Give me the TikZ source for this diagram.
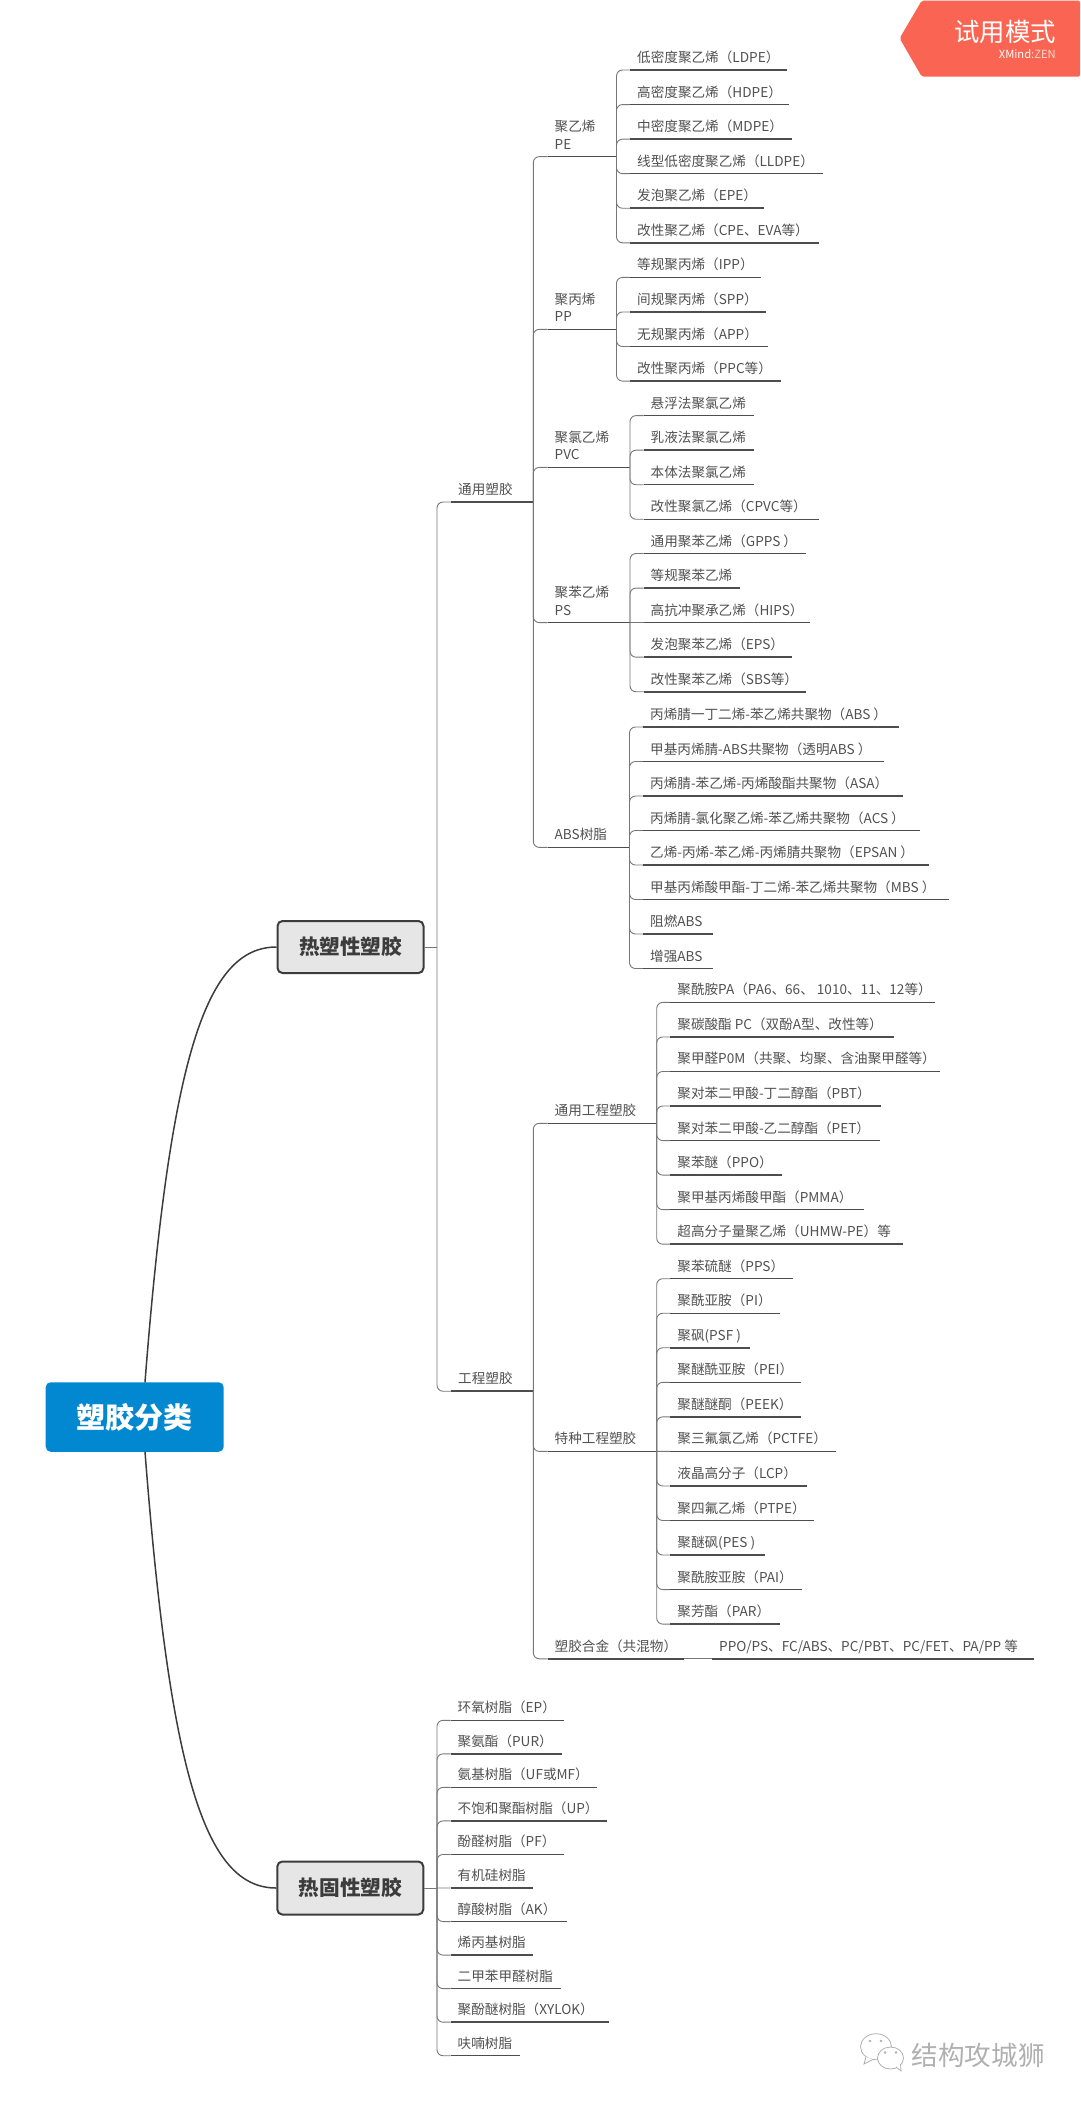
\documentclass[tikz,border=0pt]{standalone}
\usepackage{fontspec}
\setmainfont{Noto Sans CJK SC}
\usepackage{tikz}

\definecolor{inkgray}{HTML}{505050}
\definecolor{linegray}{HTML}{777777}
\definecolor{lineink}{HTML}{4d4d4d}
\definecolor{rootblue}{HTML}{0288D1}
\definecolor{boxgray}{HTML}{E6E6E6}
\definecolor{boxink}{HTML}{3C3C3C}
\definecolor{tagred}{HTML}{F96552}
\definecolor{markgray}{HTML}{B0B0B0}

\tikzset{
	leaf/.style={anchor=south west, inner xsep=7pt, inner ysep=4.3pt, text depth=3pt, text=inkgray, font=\fontsize{13.6}{17.6}\selectfont},
	branch/.style={leaf, align=left},
	conn/.style={draw=linegray, line width=0.9pt, rounded corners=6pt},
	uline/.style={draw=lineink, line width=1.5pt},
	topic/.style={draw=boxink, line width=2pt, fill=boxgray, rounded corners=5pt, text=boxink, minimum width=146pt, minimum height=52pt, font=\fontsize{20.6}{24}\selectfont\bfseries},
	rootnode/.style={fill=rootblue, rounded corners=5pt, text=white, minimum width=178pt, minimum height=69.5pt, font=\fontsize{29}{34}\selectfont\bfseries},
	curve/.style={draw=boxink, line width=1.5pt},
}

% #1 name, #2 spine x, #3 first line y, #4 pitch, #5 leaf on the parent's line, #6 list of line end/text
\newcommand{\leaves}[6]{
	\foreach \ex/\txt [count=\k from 0] in {#6} {
		\pgfmathsetmacro\xs{#2+13.5}
		\pgfmathsetmacro\yy{#3+\k*#4}
		\pgfmathsetmacro\w{\ex-\xs-14}
		\node[leaf] (#1\k) at (\xs,\yy) {\makebox[\w pt][l]{\txt}};
		\ifnum\k=#5 \draw[conn] (#1j) -- (#1\k.south west);
		\else \draw[conn] (#1j) |- (#1\k.south west);
		\fi
		\draw[uline] (#1\k.south west) -- (#1\k.south east);
	}
}

\begin{document}
\begin{tikzpicture}[x=1pt, y=-1pt]
	\useasboundingbox (0,0) rectangle (1080,2102);

	% main topics
	\node[rootnode] (root) at (134.7,1417) {塑胶分类};
	\node[topic] (plast) at (350.5,947) {热塑性塑胶};
	\node[topic, minimum height=53pt] (setplast) at (350.3,1888) {热固性塑胶};
	\coordinate (roottop) at (145,1382.3);
	\coordinate (rootbot) at (145,1451.7);
	\draw[curve] (roottop) .. controls (170,1060) and (205,947) .. (plast.west);
	\draw[curve] (rootbot) .. controls (170,1775) and (205,1888) .. (setplast.west);

	% second level
	\coordinate (plastj) at (437,947);
	\coordinate (setplastj) at (437,1888);
	\draw[conn] (plast.east) -- (plastj);
	\draw[conn] (setplast.east) -- (setplastj);
	\foreach \n/\y/\txt in {comm/502/通用塑胶, engi/1391.2/工程塑胶} {
		\node[branch] (\n) at (451,\y) {\txt};
		\coordinate (\n j) at (533.3,\y);
		\draw[conn] (plastj) |- (\n.south west);
		\draw[uline] (\n.south west) -- (\n j);
	}

	% third level
	\foreach \n/\p/\s/\y/\txt in {pe/comm/616.5/156.6/聚乙烯\\PE, pp/comm/616.5/329.3/聚丙烯\\PP,
		pvc/comm/630/467.4/聚氯乙烯\\PVC, ps/comm/630/622.62/聚苯乙烯\\PS, abs/comm/629.5/847.4/ABS树脂,
		gen/engi/656.7/1123.3/通用工程塑胶, spec/engi/656.7/1451.4/特种工程塑胶, alloy/engi/684/1658.8/塑胶合金（共混物）} {
		\node[branch] (\n) at (547.5,\y) {\txt};
		\coordinate (\n j) at (\s,\y);
		\draw[conn] (\p j) |- (\n.south west);
		\draw[uline] (\n.south west) -- (\n j);
	}

	% leaves
	\leaves{pe}{616.5}{70}{34.56}{-1}{787/低密度聚乙烯（LDPE）, 788.6/高密度聚乙烯（HDPE）, 792/中密度聚乙烯（MDPE）,
		822.6/线型低密度聚乙烯（LLDPE）, 763.8/发泡聚乙烯（EPE）, 819/改性聚乙烯（CPE、EVA等）}
	\leaves{pp}{616.5}{277.4}{34.56}{-1}{760.8/等规聚丙烯（IPP）, 766/间规聚丙烯（SPP）, 767.9/无规聚丙烯（APP）, 780.4/改性聚丙烯（PPC等）}
	\leaves{pvc}{630}{415.6}{34.56}{-1}{753.3/悬浮法聚氯乙烯, 753.3/乳液法聚氯乙烯, 753.3/本体法聚氯乙烯, 818.3/改性聚氯乙烯（CPVC等）}
	\leaves{ps}{630}{553.5}{34.56}{2}{806/通用聚苯乙烯（GPPS ）, 739.7/等规聚苯乙烯, 810/高抗冲聚承乙烯（HIPS）, 792/发泡聚苯乙烯（EPS）, 806/改性聚苯乙烯（SBS等）}
	\leaves{abs}{629.5}{727}{34.5}{-1}{898.7/丙烯腈一丁二烯-苯乙烯共聚物（ABS ）, 884/甲基丙烯腈-ABS共聚物（透明ABS ）, 902.7/丙烯腈-苯乙烯-丙烯酸酯共聚物（ASA）,
		919.3/丙烯腈-氯化聚乙烯-苯乙烯共聚物（ACS ）, 929/乙烯-丙烯-苯乙烯-丙烯腈共聚物（EPSAN ）, 948.3/甲基丙烯酸甲酯-丁二烯-苯乙烯共聚物（MBS ）,
		712.3/阻燃ABS, 712.3/增强ABS}
	\leaves{gen}{656.7}{1002.4}{34.54}{-1}{934.7/聚酰胺PA（PA6、66、 1010、11、12等）, 893.3/聚碳酸酯 PC（双酚A型、改性等）, 940/聚甲醛P0M（共聚、均聚、含油聚甲醛等）,
		881/聚对苯二甲酸-丁二醇酯（PBT）, 880/聚对苯二甲酸-乙二醇酯（PET）, 781.3/聚苯醚（PPO）, 864/聚甲基丙烯酸甲酯（PMMA）, 902.7/超高分子量聚乙烯（UHMW-PE）等}
	\leaves{spec}{656.7}{1278.7}{34.54}{5}{792.7/聚苯硫醚（PPS）, 779.3/聚酰亚胺（PI）, 750/聚砜(PSF ), 800.3/聚醚酰亚胺（PEI）, 800.3/聚醚醚酮（PEEK）,
		835.7/聚三氟氯乙烯（PCTFE）, 806.3/液晶高分子（LCP）, 814/聚四氟乙烯（PTPE）, 764.7/聚醚砜(PES ), 801.3/聚酰胺亚胺（PAI）, 779.3/聚芳酯（PAR）}
	\leaves{setplast}{437}{1720.3}{33.54}{5}{563.6/环氧树脂（EP）, 561.4/聚氨酯（PUR）, 596.7/氨基树脂（UF或MF）, 606.3/不饱和聚酯树脂（UP）, 563.6/酚醛树脂（PF）,
		532.8/有机硅树脂, 566.4/醇酸树脂（AK）, 532.8/烯丙基树脂, 560.3/二甲苯甲醛树脂, 609/聚酚醚树脂（XYLOK）, 519.3/呋喃树脂}
	\node[leaf, minimum width=322pt, align=left] (blend) at (712,1658.8) {\makebox[308pt][l]{PPO/PS、FC/ABS、PC/PBT、PC/FET、PA/PP 等}};
	\draw[conn] (alloyj) -- (blend.south west);
	\draw[uline] (blend.south west) -- (blend.south east);

	% trial tag
	\fill[tagred, rounded corners=2pt] (1080,0.5) -- (921.8,0.5) -- (899.6,38.3) -- (921.8,76.7) -- (1080,76.7) -- cycle;
	\node[text=white, font=\fontsize{25.4}{30}\selectfont, inner sep=0pt] (tagtitle) at (1005,31.7) {试用模式};
	\node[text=white, anchor=east, font=\fontsize{11.2}{12}\selectfont, inner sep=0pt] (tagsub) at (1056,53.7) {XMind\textcolor{white!75!tagred}{:ZEN}};

	% watermark
	\draw[markgray, line width=0.8pt, fill=white] (876,2046.7) ellipse [x radius=15.5, y radius=13];
	\draw[markgray, line width=0.8pt, fill=white] (866,2057) -- (864,2064) -- (873,2059.5);
	\draw[markgray, line width=0.8pt, fill=white] (890.5,2058) ellipse [x radius=13, y radius=11];
	\draw[markgray, line width=0.8pt, fill=white] (896,2067) -- (901,2071) -- (900.5,2064);
	\foreach \x/\y in {870/2041, 881/2041, 885/2052.5, 896/2052.5} {
		\fill[markgray] (\x,\y) circle (1.3);
	}
	\node[text=markgray, anchor=west, font=\fontsize{26.6}{30}\selectfont, inner sep=0pt] (wmark) at (911.5,2055) {结构攻城狮};
\end{tikzpicture}
\end{document}
